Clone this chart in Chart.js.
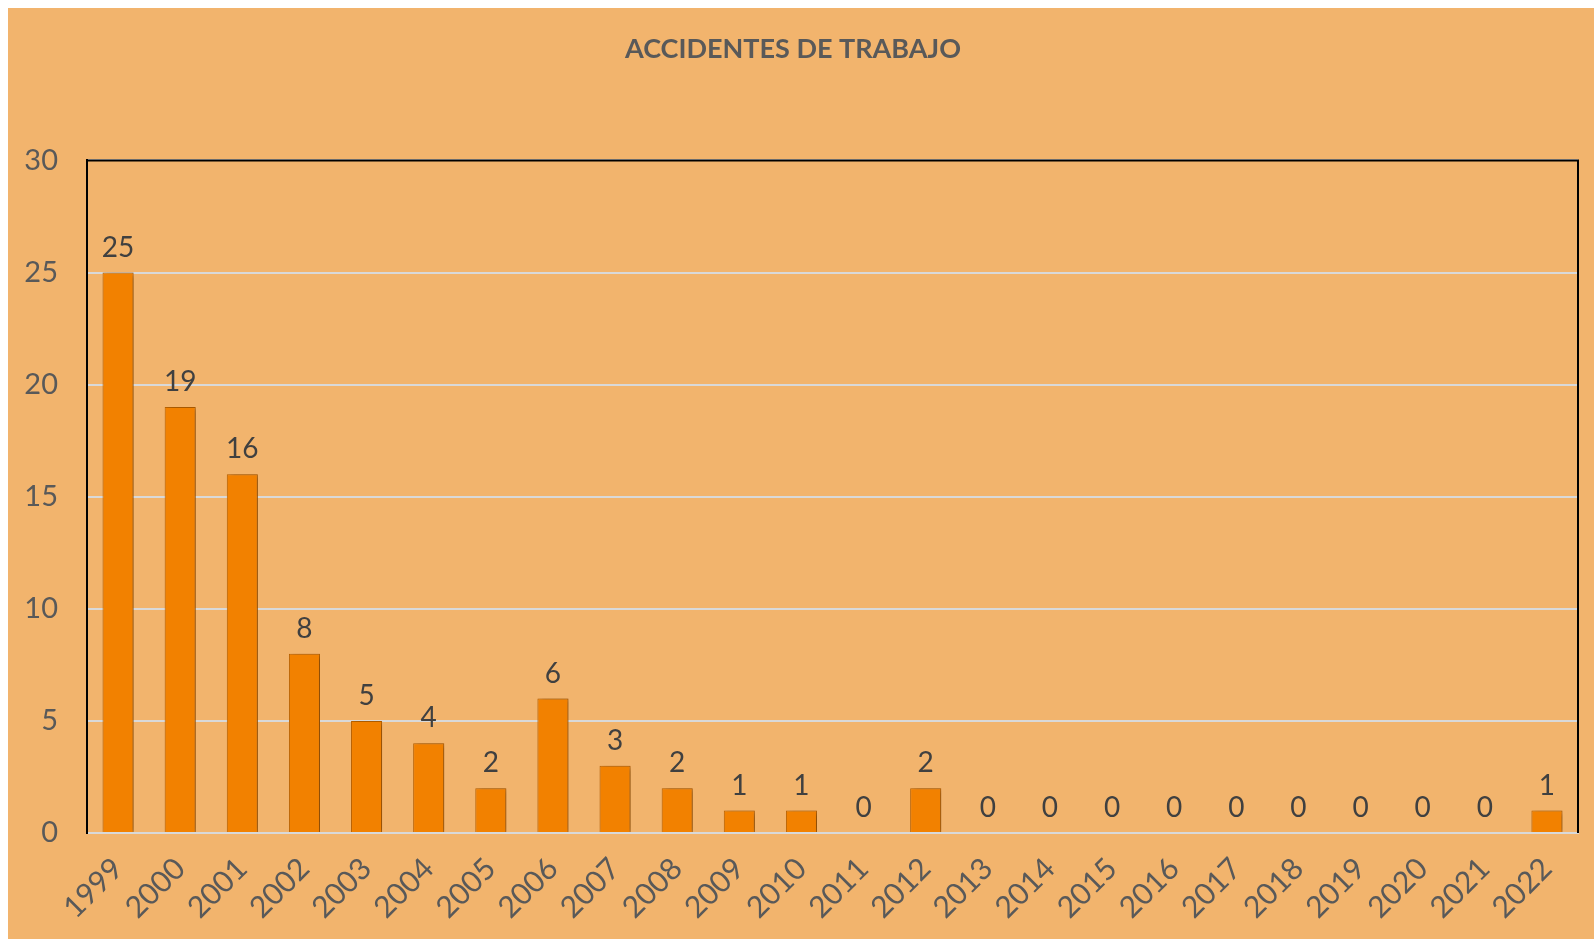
<!DOCTYPE html>
<html>
<head>
<meta charset="utf-8">
<script src="https://cdn.jsdelivr.net/npm/chart.js@4"></script>
<style>
  body { margin: 0; background: #fff; }
  #wrap { position: absolute; left: 8px; top: 8px; width: 1586px; height: 931px; background: #f2b46d; }
</style>
</head>
<body>
<div id="wrap"><canvas id="chart"></canvas></div>
<script>
const years = ["1999", "2000", "2001", "2002", "2003", "2004", "2005", "2006", "2007", "2008", "2009", "2010",
  "2011", "2012", "2013", "2014", "2015", "2016", "2017", "2018", "2019", "2020", "2021", "2022"];
const accidents = [25, 19, 16, 8, 5, 4, 2, 6, 3, 2, 1, 1, 0, 2, 0, 0, 0, 0, 0, 0, 0, 0, 0, 1];
const yTicks = [0, 5, 10, 15, 20, 25, 30];

const fontFamily = "Lato, 'Open Sans', sans-serif";

// value labels above each bar
const valueLabels = {
  id: 'valueLabels',
  afterDatasetsDraw(chart) {
    const ctx = chart.ctx;
    const meta = chart.getDatasetMeta(0);
    ctx.save();
    ctx.font = "28px " + fontFamily;
    ctx.fillStyle = '#404040';
    ctx.textAlign = 'center';
    ctx.textBaseline = 'bottom';
    meta.data.forEach((bar, i) => {
      ctx.fillText(String(accidents[i]), bar.x, bar.y - 11);
    });
    ctx.restore();
  }
};

// soft shadow behind the bars
const barShadow = {
  id: 'barShadow',
  beforeDatasetDraw(chart) {
    const ctx = chart.ctx;
    ctx.save();
    ctx.shadowColor = 'rgba(60,30,0,0.45)';
    ctx.shadowOffsetX = 3;
    ctx.shadowOffsetY = 1;
    ctx.shadowBlur = 5;
  },
  afterDatasetDraw(chart) {
    chart.ctx.restore();
  }
};

// black frame on top and right of the plot area
const plotFrame = {
  id: 'plotFrame',
  afterDraw(chart) {
    const { ctx, chartArea: a } = chart;
    ctx.save();
    ctx.strokeStyle = '#000';
    ctx.lineWidth = 2;
    ctx.beginPath();
    ctx.moveTo(a.left, a.top);
    ctx.lineTo(a.right, a.top);
    ctx.lineTo(a.right, a.bottom);
    ctx.stroke();
    ctx.restore();
  }
};

const ctx = document.getElementById('chart').getContext('2d');
new Chart(ctx, {
  type: 'bar',
  data: {
    labels: years,
    datasets: [{
      label: 'Accidentes',
      data: accidents,
      backgroundColor: '#f28100',
      borderColor: '#b86200',
      borderWidth: 1,
      barPercentage: 0.5,
      categoryPercentage: 1.0
    }]
  },
  options: {
    responsive: true,
    maintainAspectRatio: false,
    animation: false,
    layout: { padding: { top: 0, right: 16, bottom: 0, left: 0 } },
    plugins: {
      legend: { display: false },
      tooltip: { enabled: false },
      title: {
        display: true,
        text: 'ACCIDENTES DE TRABAJO',
        color: '#595959',
        font: { family: fontFamily, size: 27, weight: 'bold' },
        padding: { top: 25, bottom: 95 }
      }
    },
    scales: {
      x: {
        grid: { display: false },
        border: { display: true, color: '#d9d9d9', width: 2 },
        ticks: {
          color: '#595959',
          font: { family: fontFamily, size: 30 },
          maxRotation: 45,
          minRotation: 45,
          padding: 10
        },
        afterFit(scale) { scale.height = 106; }
      },
      y: {
        min: 0,
        max: 30,
        afterBuildTicks(scale) { scale.ticks = yTicks.map(v => ({ value: v })); },
        grid: { color: '#d9d9d9', lineWidth: 2, drawTicks: false },
        border: { display: true, color: '#000', width: 2 },
        ticks: {
          color: '#595959',
          font: { family: fontFamily, size: 29 },
          padding: 29
        },
        afterFit(scale) { scale.width = 79; }
      }
    }
  },
  plugins: [barShadow, valueLabels, plotFrame]
});
</script>
</body>
</html>
